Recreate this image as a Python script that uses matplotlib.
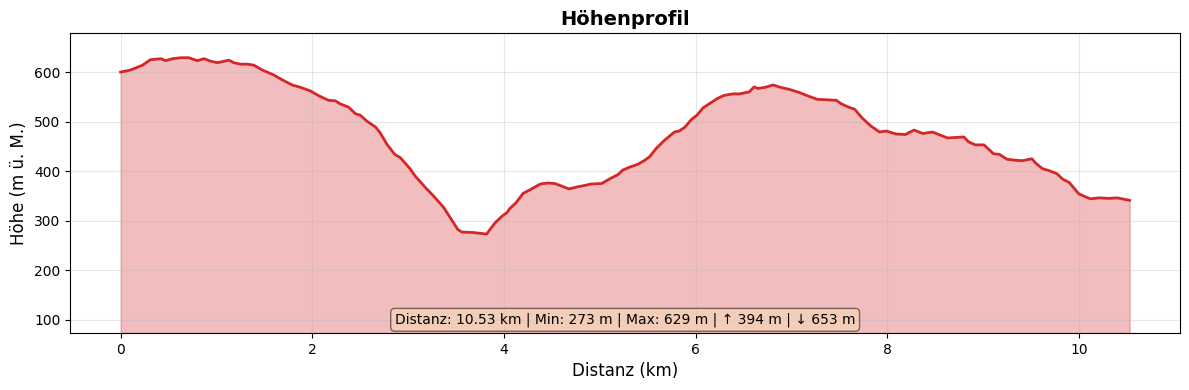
import matplotlib
matplotlib.use("Agg")
import matplotlib.pyplot as plt

# Distanz in km, Hoehe in m
distanz = [0.00, 0.10, 0.23, 0.31, 0.42, 0.47, 0.54, 0.63, 0.71, 0.80, 0.87, 0.94,
           1.01, 1.13, 1.18, 1.25, 1.32, 1.39, 1.48, 1.60, 1.68, 1.79, 1.88, 1.98,
           2.07, 2.17, 2.24, 2.29, 2.38, 2.45, 2.50, 2.57, 2.66, 2.71, 2.78, 2.86,
           2.92, 3.02, 3.07, 3.18, 3.26, 3.37, 3.47, 3.52, 3.56, 3.68, 3.82, 3.85,
           3.91, 3.98, 4.03, 4.06, 4.13, 4.20, 4.27, 4.38, 4.46, 4.53, 4.60, 4.68,
           4.76, 4.84, 4.91, 5.02, 5.10, 5.19, 5.24, 5.31, 5.40, 5.47, 5.52, 5.59,
           5.68, 5.78, 5.83, 5.89, 5.96, 6.01, 6.08, 6.16, 6.23, 6.30, 6.39, 6.46,
           6.56, 6.61, 6.65, 6.72, 6.81, 6.89, 6.98, 7.08, 7.17, 7.27, 7.38, 7.47,
           7.52, 7.60, 7.66, 7.74, 7.83, 7.92, 7.99, 8.09, 8.19, 8.28, 8.37, 8.47,
           8.63, 8.80, 8.85, 8.92, 9.01, 9.11, 9.17, 9.25, 9.34, 9.41, 9.51, 9.55,
           9.62, 9.69, 9.77, 9.83, 9.90, 10.00, 10.12, 10.21, 10.31, 10.40, 10.53]
hoehe = [600, 604, 614, 625, 627, 623, 627, 629, 629, 623, 627, 622,
         619, 624, 619, 616, 616, 614, 604, 594, 585, 574, 569, 562,
         552, 543, 542, 536, 529, 516, 513, 501, 489, 477, 454, 434,
         427, 405, 391, 367, 351, 327, 297, 282, 277, 276, 273, 281,
         296, 309, 316, 324, 337, 355, 362, 374, 376, 375, 370, 364,
         368, 371, 374, 375, 384, 393, 402, 408, 414, 422, 429, 446,
         463, 479, 481, 489, 505, 512, 528, 538, 547, 553, 556, 556,
         560, 570, 567, 569, 574, 569, 565, 559, 552, 545, 544, 543,
         536, 529, 525, 507, 491, 479, 481, 475, 474, 483, 476, 479,
         467, 469, 459, 453, 453, 435, 434, 424, 422, 421, 425, 416,
         405, 401, 395, 384, 377, 354, 344, 346, 345, 346, 341]

gesamt_km = 10.53
min_h = 273
max_h = 629
aufstieg = 394
abstieg = 653

y_unten = min_h - 200
y_oben = max_h + 50

fig, ax = plt.subplots(figsize=(11.89, 3.9), dpi=100)
ax.fill_between(distanz, hoehe, y_unten, color="tab:red", alpha=0.3)
ax.plot(distanz, hoehe, color="tab:red", linewidth=2)
ax.set_ylim(y_unten, y_oben)
ax.set_title("Höhenprofil", fontsize=14, fontweight="bold")
ax.set_xlabel("Distanz (km)", fontsize=12)
ax.set_ylabel("Höhe (m ü. M.)", fontsize=12)
ax.grid(True, alpha=0.3)

info = (f"Distanz: {gesamt_km:.2f} km | Min: {min_h} m | Max: {max_h} m | "
        f"↑ {aufstieg} m | ↓ {abstieg} m")
ax.text(0.5, 0.02, info, transform=ax.transAxes, ha="center", va="bottom",
        fontsize=10, bbox=dict(boxstyle="round", facecolor="wheat", alpha=0.5))

fig.subplots_adjust(left=0.059, right=0.9925, bottom=0.146, top=0.9155)
plt.savefig("out.png")
